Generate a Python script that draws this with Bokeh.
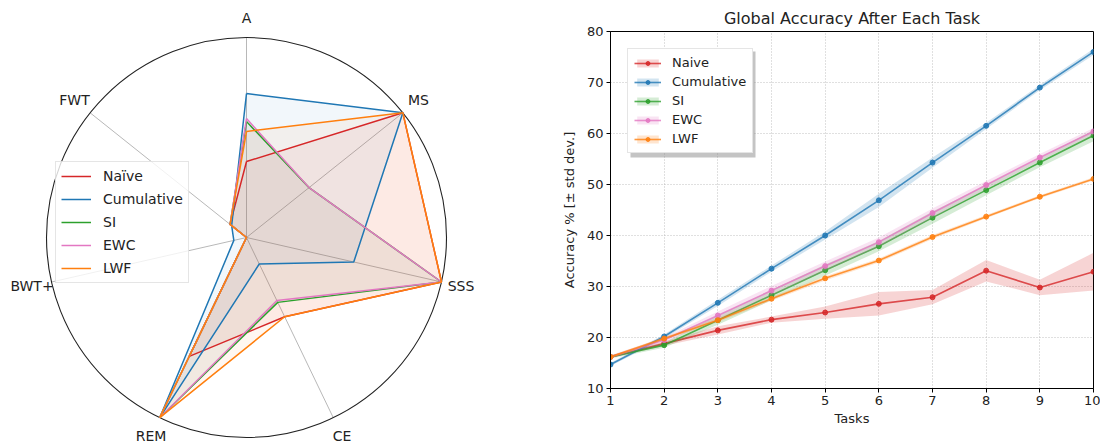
import numpy as np
from bokeh.plotting import figure
from bokeh.layouts import row, column
from bokeh.models import Range1d, Legend, LegendItem, FixedTicker, BoxAnnotation
from bokeh.core.properties import value
from bokeh.embed import file_html
from bokeh.resources import INLINE

# ---------------- data ----------------
radar_axes = ["A", "MS", "SSS", "CE", "REM", "BWT+", "FWT"]
radar_names = ["Naïve", "Cumulative", "SI", "EWC", "LWF"]
radar_naive = [0.38, 1.0, 1.0, 0.44, 0.66, 0.0, 0.105]
radar_cumulative = [0.72, 1.0, 0.55, 0.147, 1.0, 0.065, 0.095]
radar_si = [0.58, 0.40, 1.0, 0.36, 1.0, 0.0, 0.105]
radar_ewc = [0.595, 0.40, 1.0, 0.35, 1.0, 0.0, 0.105]
radar_lwf = [0.53, 1.0, 1.0, 0.44, 1.0, 0.0, 0.105]

tasks = [1, 2, 3, 4, 5, 6, 7, 8, 9, 10]
acc_names = ["Naive", "Cumulative", "SI", "EWC", "LWF"]
naive_mean = [16.2, 18.8, 21.4, 23.5, 24.9, 26.6, 27.9, 33.1, 29.8, 32.9]
naive_std = [0.2, 0.4, 0.8, 0.6, 1.2, 2.3, 1.4, 2.1, 1.5, 3.7]
cum_mean = [14.7, 20.2, 26.8, 33.5, 40.0, 46.9, 54.3, 61.5, 69.0, 76.0]
cum_std = [0.3, 0.4, 0.6, 0.6, 0.8, 1.3, 1.0, 0.6, 0.5, 0.6]
si_mean = [16.2, 18.5, 23.4, 28.3, 33.2, 37.9, 43.5, 48.9, 54.3, 59.6]
si_std = [0.3, 0.5, 0.9, 1.0, 1.1, 1.0, 1.2, 1.0, 0.9, 1.1]
ewc_mean = [16.2, 19.5, 24.3, 29.2, 34.0, 38.7, 44.4, 49.9, 55.3, 60.4]
ewc_std = [0.3, 0.5, 0.8, 0.9, 0.9, 0.9, 0.9, 0.8, 0.7, 0.7]
lwf_mean = [16.2, 19.8, 23.4, 27.6, 31.6, 35.1, 39.7, 43.7, 47.6, 51.1]
lwf_std = [0.2, 0.3, 0.4, 0.4, 0.4, 0.4, 0.4, 0.3, 0.3, 0.3]

colors = ["#d62728", "#1f77b4", "#2ca02c", "#e377c2", "#ff7f0e"]
FONT = "DejaVu Sans"

# ---------------- radar (left) ----------------
LW, LH = 540, 444
R = 200.0
cx, cy = 246.0, 237.0  # centre in figure pixels (from left / from top)
left = figure(width=LW, height=LH, output_backend="svg", toolbar_location=None,
              x_range=Range1d(-cx / R, (LW - cx) / R),
              y_range=Range1d(-(LH - cy) / R, cy / R),
              min_border=0)
left.axis.visible = False
left.grid.visible = False
left.outline_line_color = None

n = len(radar_axes)
theta = [np.pi / 2 - i * 2 * np.pi / n for i in range(n)]

# spokes
left.segment(x0=[0] * n, y0=[0] * n, x1=[np.cos(t) for t in theta],
             y1=[np.sin(t) for t in theta], line_color="#b8b8b8", line_width=1)
# outer circle
left.circle(x=[0], y=[0], radius=1, fill_color=None, line_color="#222222", line_width=1.1)

radar_series = [radar_naive, radar_cumulative, radar_si, radar_ewc, radar_lwf]
radar_items = []
for name, vals, col in zip(radar_names, radar_series, colors):
    xs = [v * np.cos(t) for v, t in zip(vals, theta)]
    ys = [v * np.sin(t) for v, t in zip(vals, theta)]
    left.patch(xs, ys, fill_color=col, fill_alpha=0.06, line_color=None)
for name, vals, col in zip(radar_names, radar_series, colors):
    xs = [v * np.cos(t) for v, t in zip(vals, theta)]
    ys = [v * np.sin(t) for v, t in zip(vals, theta)]
    ln = left.line(xs + [xs[0]], ys + [ys[0]], line_color=col, line_width=1.5)
    radar_items.append(LegendItem(label=name, renderers=[ln]))

lab_r = 1.1
left.text(x=[lab_r * np.cos(t) for t in theta], y=[lab_r * np.sin(t) for t in theta],
          text=radar_axes, text_align="center", text_baseline="middle",
          text_font=value(FONT), text_font_size="14px", text_color="#222222")

leg_l = Legend(items=radar_items, location=(55, 161), orientation="vertical")
leg_l.label_text_font = FONT
leg_l.label_text_font_size = "14px"
leg_l.label_text_color = "#222222"
leg_l.glyph_width = 30
leg_l.glyph_height = 18
leg_l.label_height = 18
leg_l.spacing = 5
leg_l.padding = 5
leg_l.label_standoff = 12
leg_l.border_line_color = "#cccccc"
leg_l.background_fill_alpha = 0.8
left.add_layout(leg_l)

# ---------------- accuracy (right) ----------------
RW, RH = 560, 444
right = figure(width=RW, height=RH, output_backend="svg", toolbar_location=None,
               x_range=Range1d(1, 10), y_range=Range1d(10, 80),
               min_border_left=70, min_border_right=7, min_border_top=31,
               min_border_bottom=56,
               title="Global Accuracy After Each Task")
right.title.align = "center"
right.title.text_font = FONT
right.title.text_font_size = "16px"
right.title.text_font_style = "normal"
right.title.text_color = "#222222"
right.title.standoff = 8

right.xaxis.ticker = FixedTicker(ticks=tasks)
right.yaxis.ticker = FixedTicker(ticks=[10, 20, 30, 40, 50, 60, 70, 80])
for ax in (right.xaxis, right.yaxis):
    ax.major_label_text_font = FONT
    ax.major_label_text_font_size = "13px"
    ax.major_label_text_color = "#222222"
    ax.axis_label_text_font = FONT
    ax.axis_label_text_font_size = "13px"
    ax.axis_label_text_font_style = "normal"
    ax.axis_label_text_color = "#222222"
    ax.major_tick_in = 0
    ax.major_tick_out = 4
    ax.minor_tick_in = 0
    ax.minor_tick_out = 0
    ax.major_label_standoff = 3
    ax.axis_line_color = "black"
    ax.major_tick_line_color = "black"
right.xaxis.axis_label = "Tasks"
right.yaxis.axis_label = "Accuracy % [± std dev.]"
right.xaxis.axis_label_standoff = 3
right.yaxis.axis_label_standoff = 7
right.outline_line_color = "black"
right.outline_line_alpha = 1
right.grid.grid_line_color = "#b0b0b0"
right.grid.grid_line_dash = "1 2"
right.grid.grid_line_width = 0.8

acc_means = [naive_mean, cum_mean, si_mean, ewc_mean, lwf_mean]
acc_stds = [naive_std, cum_std, si_std, ewc_std, lwf_std]
acc_items = []
for name, m, s, col in zip(acc_names, acc_means, acc_stds, colors):
    lo = [a - b for a, b in zip(m, s)]
    hi = [a + b for a, b in zip(m, s)]
    band = right.varea(x=tasks, y1=lo, y2=hi, fill_color=col, fill_alpha=0.2)
    ln = right.line(tasks, m, line_color=col, line_width=1.6, line_alpha=0.8)
    sc = right.scatter(tasks, m, marker="circle", size=5, fill_color=col,
                       line_color=col, fill_alpha=0.85, line_alpha=0.85)
    acc_items.append(LegendItem(label=name, renderers=[band, ln, sc]))

# legend geometry (screen px, relative to the frame)
LEG_M, LEG_W, LEG_H, FRAME_H = 17, 125, 106, 357
shadow = BoxAnnotation(left=LEG_M + 3, right=LEG_M + 3 + LEG_W,
                       top=FRAME_H - LEG_M - 3, bottom=FRAME_H - LEG_M - 3 - LEG_H,
                       left_units="screen", right_units="screen",
                       top_units="screen", bottom_units="screen",
                       fill_color="#8a8a8a", fill_alpha=0.5, line_color=None)
right.add_layout(shadow)

leg_r = Legend(items=acc_items, location="top_left", orientation="vertical")
leg_r.margin = LEG_M
leg_r.label_text_font = FONT
leg_r.label_text_font_size = "13px"
leg_r.label_text_color = "#222222"
leg_r.glyph_width = 27
leg_r.glyph_height = 10
leg_r.label_height = 14
leg_r.spacing = 4
leg_r.padding = 6
leg_r.label_standoff = 11
leg_r.border_line_color = "#cccccc"
leg_r.background_fill_alpha = 1.0
right.add_layout(leg_r)

layout = row(column(left), column(right))
open("out.html", "w").write(file_html(layout, INLINE))
